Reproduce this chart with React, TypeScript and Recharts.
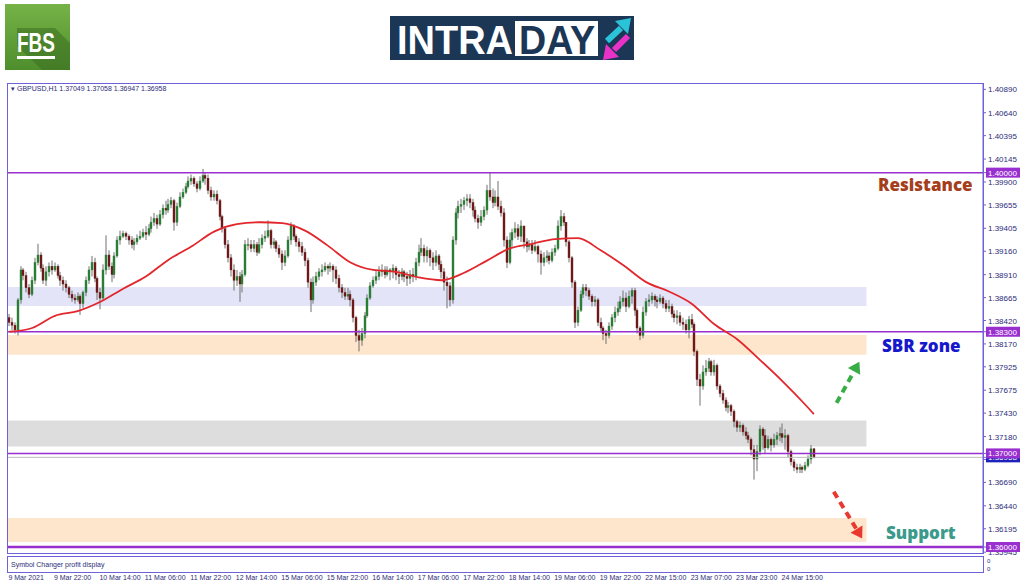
import React from 'react';
import {
    ComposedChart,
    Bar,
    Line,
    XAxis,
    YAxis,
    ReferenceArea,
    ReferenceLine,
} from 'recharts';

// GBPUSD H1, 9 Mar 2021 06:00 .. 25 Mar 2021 01:00
const firstOpen = 1.3845;

const closes = [
    1.3840, 1.3837, 1.3832, 1.3864, 1.3896, 1.3890, 1.3877, 1.3870, 1.3885, 1.3904,
    1.3912, 1.3898, 1.3885, 1.3894, 1.3900, 1.3896, 1.3900, 1.3890, 1.3885, 1.3881,
    1.3877, 1.3870, 1.3866, 1.3864, 1.3868, 1.3860, 1.3872, 1.3885, 1.3896, 1.3904,
    1.3887, 1.3872, 1.3866, 1.3896, 1.3912, 1.3900, 1.3891, 1.3911, 1.3928, 1.3932,
    1.3935, 1.3932, 1.3928, 1.3923, 1.3926, 1.3930, 1.3932, 1.3936, 1.3934, 1.3940,
    1.3947, 1.3951, 1.3945, 1.3955, 1.3962, 1.3960, 1.3966, 1.3970, 1.3947, 1.3964,
    1.3974, 1.3979, 1.3985, 1.3991, 1.3994, 1.3988, 1.3983, 1.3991, 1.3997, 1.3994,
    1.3981, 1.3974, 1.3977, 1.3970, 1.3953, 1.3940, 1.3923, 1.3909, 1.3896, 1.3885,
    1.3889, 1.3881, 1.3891, 1.3923, 1.3923, 1.3919, 1.3923, 1.3915, 1.3923, 1.3930,
    1.3932, 1.3938, 1.3923, 1.3926, 1.3919, 1.3913, 1.3904, 1.3911, 1.3928, 1.3943,
    1.3932, 1.3926, 1.3921, 1.3915, 1.3906, 1.3883, 1.3864, 1.3883, 1.3889, 1.3894,
    1.3896, 1.3900, 1.3898, 1.3900, 1.3896, 1.3887, 1.3877, 1.3872, 1.3868, 1.3870,
    1.3864, 1.3845, 1.3826, 1.3821, 1.3828, 1.3847, 1.3866, 1.3879, 1.3885, 1.3889,
    1.3894, 1.3896, 1.3891, 1.3896, 1.3894, 1.3898, 1.3891, 1.3889, 1.3894, 1.3889,
    1.3887, 1.3891, 1.3889, 1.3904, 1.3915, 1.3919, 1.3911, 1.3917, 1.3909, 1.3904,
    1.3911, 1.3902, 1.3894, 1.3883, 1.3879, 1.3864, 1.3928, 1.3957, 1.3964, 1.3966,
    1.3970, 1.3972, 1.3968, 1.3960, 1.3951, 1.3947, 1.3953, 1.3960, 1.3981, 1.3974,
    1.3968, 1.3974, 1.3964, 1.3957, 1.3928, 1.3904, 1.3928, 1.3936, 1.3940, 1.3932,
    1.3943, 1.3926, 1.3921, 1.3923, 1.3917, 1.3921, 1.3913, 1.3904, 1.3909, 1.3911,
    1.3906, 1.3915, 1.3919, 1.3943, 1.3953, 1.3947, 1.3926, 1.3909, 1.3883, 1.3840,
    1.3853, 1.3870, 1.3877, 1.3874, 1.3868, 1.3862, 1.3864, 1.3840, 1.3834, 1.3828,
    1.3826, 1.3836, 1.3845, 1.3851, 1.3855, 1.3862, 1.3866, 1.3857, 1.3868, 1.3874,
    1.3853, 1.3834, 1.3826, 1.3851, 1.3862, 1.3864, 1.3868, 1.3864, 1.3862, 1.3866,
    1.3860, 1.3855, 1.3857, 1.3849, 1.3845, 1.3847, 1.3840, 1.3838, 1.3832, 1.3843,
    1.3838, 1.3809, 1.3779, 1.3772, 1.3787, 1.3791, 1.3798, 1.3787, 1.3794, 1.3772,
    1.3764, 1.3757, 1.3749, 1.3751, 1.3745, 1.3734, 1.3728, 1.3730, 1.3723, 1.3719,
    1.3715, 1.3704, 1.3694, 1.3702, 1.3726, 1.3719, 1.3706, 1.3715, 1.3709, 1.3715,
    1.3719, 1.3721, 1.3717, 1.3719, 1.3702, 1.3691, 1.3685, 1.3683, 1.3685, 1.3683,
    1.3687, 1.3694, 1.37049, 1.36958,
];

const highs = [
    1.3849, 1.3845, 1.3840, 1.3866, 1.3900, 1.3898, 1.3894, 1.3881, 1.3889, 1.3909,
    1.3924, 1.3915, 1.3902, 1.3900, 1.3904, 1.3906, 1.3904, 1.3902, 1.3894, 1.3889,
    1.3885, 1.3879, 1.3874, 1.3870, 1.3872, 1.3870, 1.3874, 1.3889, 1.3900, 1.3911,
    1.3909, 1.3889, 1.3877, 1.3902, 1.3933, 1.3917, 1.3904, 1.3915, 1.3932, 1.3938,
    1.3938, 1.3937, 1.3934, 1.3932, 1.3930, 1.3934, 1.3938, 1.3940, 1.3943, 1.3945,
    1.3953, 1.3957, 1.3955, 1.3960, 1.3966, 1.3970, 1.3972, 1.3974, 1.3972, 1.3968,
    1.3979, 1.3983, 1.3989, 1.3996, 1.3998, 1.3996, 1.3991, 1.3996, 1.4004, 1.4000,
    1.3998, 1.3985, 1.3981, 1.3981, 1.3972, 1.3955, 1.3943, 1.3928, 1.3913, 1.3902,
    1.3896, 1.3894, 1.3896, 1.3928, 1.3930, 1.3928, 1.3928, 1.3926, 1.3930, 1.3934,
    1.3938, 1.3949, 1.3940, 1.3930, 1.3928, 1.3923, 1.3917, 1.3917, 1.3932, 1.3947,
    1.3945, 1.3934, 1.3930, 1.3926, 1.3919, 1.3909, 1.3887, 1.3889, 1.3894, 1.3898,
    1.3902, 1.3904, 1.3902, 1.3904, 1.3902, 1.3900, 1.3891, 1.3881, 1.3877, 1.3877,
    1.3874, 1.3866, 1.3847, 1.3832, 1.3834, 1.3851, 1.3870, 1.3883, 1.3889, 1.3896,
    1.3900, 1.3902, 1.3900, 1.3900, 1.3898, 1.3902, 1.3900, 1.3896, 1.3898, 1.3896,
    1.3894, 1.3896, 1.3898, 1.3909, 1.3923, 1.3930, 1.3923, 1.3921, 1.3919, 1.3915,
    1.3917, 1.3913, 1.3906, 1.3898, 1.3889, 1.3883, 1.3932, 1.3962, 1.3970, 1.3972,
    1.3974, 1.3977, 1.3977, 1.3972, 1.3964, 1.3955, 1.3960, 1.3964, 1.3987, 1.4000,
    1.3983, 1.3981, 1.3991, 1.3970, 1.3962, 1.3932, 1.3936, 1.3940, 1.3947, 1.3945,
    1.3949, 1.3943, 1.3930, 1.3928, 1.3928, 1.3928, 1.3923, 1.3917, 1.3915, 1.3917,
    1.3915, 1.3919, 1.3923, 1.3949, 1.3960, 1.3957, 1.3945, 1.3928, 1.3911, 1.3885,
    1.3857, 1.3874, 1.3881, 1.3881, 1.3877, 1.3870, 1.3868, 1.3866, 1.3845, 1.3836,
    1.3832, 1.3840, 1.3849, 1.3857, 1.3862, 1.3868, 1.3874, 1.3872, 1.3874, 1.3877,
    1.3877, 1.3855, 1.3836, 1.3857, 1.3866, 1.3870, 1.3872, 1.3870, 1.3868, 1.3870,
    1.3868, 1.3864, 1.3864, 1.3860, 1.3853, 1.3853, 1.3851, 1.3845, 1.3843, 1.3847,
    1.3849, 1.3840, 1.3811, 1.3785, 1.3794, 1.3800, 1.3802, 1.3800, 1.3800, 1.3796,
    1.3774, 1.3768, 1.3760, 1.3755, 1.3753, 1.3747, 1.3736, 1.3734, 1.3732, 1.3728,
    1.3723, 1.3717, 1.3709, 1.3709, 1.3730, 1.3728, 1.3726, 1.3719, 1.3717, 1.3721,
    1.3723, 1.3728, 1.3732, 1.3726, 1.3721, 1.3704, 1.3694, 1.3689, 1.3689, 1.3687,
    1.3691, 1.3698, 1.3709, 1.37058,
];

const lows = [
    1.3836, 1.3832, 1.3828, 1.3826, 1.3860, 1.3885, 1.3872, 1.3866, 1.3868, 1.3881,
    1.3901, 1.3894, 1.3881, 1.3879, 1.3889, 1.3891, 1.3894, 1.3887, 1.3879, 1.3874,
    1.3872, 1.3866, 1.3862, 1.3860, 1.3862, 1.3848, 1.3855, 1.3868, 1.3881, 1.3889,
    1.3883, 1.3864, 1.3854, 1.3864, 1.3891, 1.3896, 1.3883, 1.3887, 1.3909, 1.3923,
    1.3930, 1.3928, 1.3923, 1.3919, 1.3917, 1.3923, 1.3928, 1.3930, 1.3928, 1.3932,
    1.3936, 1.3943, 1.3940, 1.3943, 1.3951, 1.3955, 1.3957, 1.3962, 1.3938, 1.3943,
    1.3962, 1.3972, 1.3977, 1.3983, 1.3987, 1.3985, 1.3979, 1.3981, 1.3989, 1.3987,
    1.3977, 1.3970, 1.3970, 1.3966, 1.3949, 1.3936, 1.3919, 1.3904, 1.3889, 1.3874,
    1.3879, 1.3862, 1.3872, 1.3889, 1.3917, 1.3915, 1.3915, 1.3911, 1.3913, 1.3919,
    1.3926, 1.3930, 1.3919, 1.3919, 1.3915, 1.3909, 1.3896, 1.3900, 1.3909, 1.3923,
    1.3928, 1.3921, 1.3915, 1.3911, 1.3900, 1.3877, 1.3851, 1.3860, 1.3879, 1.3885,
    1.3889, 1.3894, 1.3891, 1.3894, 1.3883, 1.3881, 1.3872, 1.3866, 1.3864, 1.3864,
    1.3857, 1.3840, 1.3819, 1.3809, 1.3815, 1.3823, 1.3845, 1.3864, 1.3877, 1.3881,
    1.3885, 1.3889, 1.3887, 1.3889, 1.3885, 1.3887, 1.3885, 1.3881, 1.3885, 1.3883,
    1.3879, 1.3881, 1.3883, 1.3885, 1.3900, 1.3911, 1.3904, 1.3904, 1.3900, 1.3896,
    1.3900, 1.3896, 1.3887, 1.3874, 1.3855, 1.3857, 1.3860, 1.3923, 1.3951, 1.3957,
    1.3960, 1.3964, 1.3962, 1.3953, 1.3947, 1.3940, 1.3943, 1.3949, 1.3955, 1.3970,
    1.3962, 1.3964, 1.3960, 1.3953, 1.3921, 1.3898, 1.3902, 1.3921, 1.3930, 1.3928,
    1.3926, 1.3919, 1.3915, 1.3917, 1.3913, 1.3915, 1.3904, 1.3891, 1.3900, 1.3904,
    1.3902, 1.3904, 1.3911, 1.3917, 1.3938, 1.3943, 1.3921, 1.3904, 1.3877, 1.3834,
    1.3836, 1.3851, 1.3866, 1.3868, 1.3864, 1.3857, 1.3857, 1.3836, 1.3830, 1.3821,
    1.3817, 1.3823, 1.3832, 1.3840, 1.3847, 1.3851, 1.3857, 1.3851, 1.3855, 1.3860,
    1.3847, 1.3828, 1.3821, 1.3823, 1.3847, 1.3857, 1.3860, 1.3857, 1.3855, 1.3860,
    1.3855, 1.3851, 1.3851, 1.3845, 1.3840, 1.3838, 1.3836, 1.3832, 1.3828, 1.3823,
    1.3834, 1.3804, 1.3772, 1.3751, 1.3768, 1.3783, 1.3787, 1.3783, 1.3783, 1.3768,
    1.3760, 1.3753, 1.3745, 1.3743, 1.3740, 1.3728, 1.3723, 1.3723, 1.3719, 1.3715,
    1.3711, 1.3698, 1.3672, 1.3681, 1.3698, 1.3704, 1.3700, 1.3704, 1.3702, 1.3706,
    1.3709, 1.3713, 1.3711, 1.3704, 1.3696, 1.3687, 1.3681, 1.3679, 1.3679, 1.3679,
    1.3681, 1.3685, 1.3689, 1.36947,
];

// moving average, read every 8 bars
const maIdx = [0, 8, 16, 24, 32, 40, 48, 56, 64, 72, 80, 88, 96, 104, 112, 120, 128, 136, 144,
    152, 160, 168, 176, 184, 192, 200, 208, 216, 224, 232, 240, 248, 256, 264, 272, 280, 283];
const maVals = [1.3830, 1.3834, 1.3847, 1.3852, 1.3862, 1.3876, 1.3889, 1.3907, 1.3921, 1.3937,
    1.3945, 1.3947, 1.3946, 1.3938, 1.3922, 1.3904, 1.3896, 1.3894, 1.3888, 1.3885, 1.3893,
    1.3906, 1.3919, 1.3924, 1.3929, 1.3930, 1.3917, 1.3901, 1.3883, 1.3873, 1.3860, 1.3838,
    1.3822, 1.3800, 1.3777, 1.3752, 1.3742];

const timeTicks = [0, 16, 32, 48, 64, 80, 96, 112, 128, 144, 160, 176, 192, 208, 224, 240, 256, 272];
const timeLabels = ['9 Mar 2021', '9 Mar 22:00', '10 Mar 14:00', '11 Mar 06:00', '11 Mar 22:00',
    '12 Mar 14:00', '15 Mar 06:00', '15 Mar 22:00', '16 Mar 14:00', '17 Mar 06:00', '17 Mar 22:00',
    '18 Mar 14:00', '19 Mar 06:00', '19 Mar 22:00', '22 Mar 15:00', '23 Mar 07:00', '23 Mar 23:00',
    '24 Mar 15:00'];

const priceTicks = [1.4089, 1.4064, 1.40395, 1.40145, 1.399, 1.39655, 1.39405, 1.3916, 1.3891,
    1.38665, 1.3842, 1.3817, 1.37925, 1.37675, 1.3743, 1.3718, 1.36935, 1.3669, 1.3644, 1.36195,
    1.35945];
const levels = [1.4, 1.383, 1.37, 1.36];
const lastPrice = 1.36958;

// zones: lavender, SBR, grey, support
const zoneLow = [1.38574, 1.38053, 1.37074, 1.36053];
const zoneHigh = [1.38777, 1.38266, 1.37351, 1.36309];
const zoneEnd = 301;

const arrowUp = [[291, 1.3754], [299, 1.3798]];
const arrowDown = [[290, 1.3659], [300, 1.3609]];

const SLOTS = 343;
const maByIdx = new Map(maIdx.map((k, n) => [k, maVals[n]]));
const data = Array.from({ length: SLOTS }, (_, i) => {
    if (i >= closes.length) return { i };
    const open = i === 0 ? firstOpen : closes[i - 1];
    return {
        i,
        open,
        close: closes[i],
        high: highs[i],
        low: lows[i],
        range: [lows[i], highs[i]],
        ma: maByIdx.has(i) ? maByIdx.get(i) : undefined,
    };
});

const FRAME = '#6d62d9';
const AXIS_TXT = '#2c2c78';
const zoneFills = ['#e3e4f8', '#fde6cb', '#dddddd', '#fde6cb'];

function Candle(props: any) {
    const { x, y, width, height, payload } = props;
    if (!payload || payload.high == null || !isFinite(y) || !isFinite(height)) return <g />;
    const { open, close, high, low } = payload;
    const k = height / (high - low);
    const yO = y + (high - open) * k;
    const yC = y + (high - close) * k;
    const top = Math.min(yO, yC);
    const bot = Math.max(yO, yC);
    const bx = Math.round(x + width / 2 - 1);
    const up = close >= open;
    const col = up ? '#2a7d35' : '#6e1a1a';
    return (
        <g>
            <line x1={bx + 1} x2={bx + 1} y1={Math.min(y, top)} y2={Math.max(y + height, bot)}
                stroke="#707070" strokeWidth={1} />
            <rect x={bx} y={top} width={2} height={Math.max(bot - top, 1)}
                fill={col} stroke={col} strokeWidth={0.4} />
        </g>
    );
}

function PriceTick(props: any) {
    const { x, y, payload } = props;
    const v = payload.value;
    const txt = v.toFixed(5);
    const hl = levels.includes(v) ? '#9a2fd0' : v === lastPrice ? '#1f22b8' : null;
    if (hl) {
        return (
            <g>
                <rect x={x - 2} y={y - 5} width={34} height={10} fill={hl} />
                <text x={x} y={y + 3} fill="#ffffff" fontSize={8} fontFamily="Liberation Sans">{txt}</text>
            </g>
        );
    }
    return <text x={x} y={y + 3} fill={AXIS_TXT} fontSize={8} fontFamily="Liberation Sans">{txt}</text>;
}

function TimeTick(props: any) {
    const { x, y, payload } = props;
    const k = timeTicks.indexOf(payload.value);
    return (
        <text x={x - 1} y={y + 19} fill={AXIS_TXT} fontSize={7} fontFamily="Liberation Sans" textAnchor="start">
            {timeLabels[k]}
        </text>
    );
}

function makeArrow(color: string) {
    return (p: any) => {
        const { x1, y1, x2, y2 } = p;
        const ang = Math.atan2(y2 - y1, x2 - x1);
        const L = 11;
        const W = 7;
        const bx = x2 - L * Math.cos(ang);
        const by = y2 - L * Math.sin(ang);
        const px = -Math.sin(ang);
        const py = Math.cos(ang);
        return (
            <g>
                <line x1={x1} y1={y1} x2={bx} y2={by} stroke={color} strokeWidth={4} strokeDasharray="7 5" />
                <polygon points={`${x2},${y2} ${bx + px * W},${by + py * W} ${bx - px * W},${by - py * W}`}
                    fill={color} />
            </g>
        );
    };
}

function Logos() {
    return (
        <svg width={1024} height={587} style={{ position: 'absolute', left: 0, top: 0, pointerEvents: 'none' }}>
            <defs>
                <linearGradient id="fbsg" x1="0" y1="0" x2="0" y2="1">
                    <stop offset="0" stopColor="#76b246" />
                    <stop offset="1" stopColor="#4e8e2c" />
                </linearGradient>
            </defs>
            <rect x={5} y={4} width={65} height={66} fill="url(#fbsg)" />
            <polygon points="17,28 55,28 70,43 70,70 42,70 17,46" fill="#3c6f22" opacity={0.55} />
            <text x={17} y={52} fill="#ffffff" fontSize={28} fontWeight={700} fontFamily="Liberation Sans"
                textLength={38} lengthAdjust="spacingAndGlyphs">FBS</text>
            <rect x={17} y={56} width={38} height={3} fill="#ffffff" />

            <rect x={390} y={16} width={244} height={44} fill="#1c3656" />
            <text x={397} y={54} fill="#ffffff" fontSize={40} fontWeight={700} fontFamily="Liberation Sans"
                textLength={116} lengthAdjust="spacingAndGlyphs">INTRA</text>
            <rect x={515} y={21} width={83} height={35} fill="#ffffff" />
            <text x={519} y={54} fill="#1c3656" fontSize={40} fontWeight={700} fontFamily="Liberation Sans"
                textLength={76} lengthAdjust="spacingAndGlyphs">DAY</text>
            <line x1={607} y1={41} x2={621} y2={28} stroke="#2bc3d8" strokeWidth={6} />
            <polygon points="631,18 615,21 628,34" fill="#2bc3d8" />
            <line x1={628} y1={36} x2={614} y2={50} stroke="#e832c8" strokeWidth={6} />
            <polygon points="603,60 606,44 619,57" fill="#e832c8" />

            <text x={878} y={191} fill="#a53e1b" fontSize={17} fontWeight={800} fontFamily="Open Sans">Resistance</text>
            <text x={882} y={352} fill="#1717cc" fontSize={17} fontWeight={800} fontFamily="Open Sans">SBR zone</text>
            <text x={886} y={539} fill="#3c9a8c" fontSize={17} fontWeight={800} fontFamily="Open Sans">Support</text>

            <rect x={7.5} y={83.5} width={976} height={470} fill="none" stroke={FRAME} />
            <rect x={7.5} y={556.5} width={976} height={16} fill="none" stroke={FRAME} />
            <text x={11} y={91} fill={AXIS_TXT} fontSize={7} fontFamily="Liberation Sans">
                ▾ GBPUSD,H1  1.37049 1.37058 1.36947 1.36958
            </text>
            <text x={11} y={567} fill={AXIS_TXT} fontSize={7} fontFamily="Liberation Sans">
                Symbol Changer profit display
            </text>
            <text x={987} y={563} fill={AXIS_TXT} fontSize={6} fontFamily="Liberation Sans">0</text>
            <text x={987} y={571} fill={AXIS_TXT} fontSize={6} fontFamily="Liberation Sans">0</text>
        </svg>
    );
}

export default function App() {
    return (
        <div style={{ position: 'absolute', left: 0, top: 0, width: 1024, height: 587, background: '#ffffff' }}>
            <ComposedChart
                width={1024}
                height={587}
                data={data}
                margin={{ top: 84, right: 1, bottom: 4, left: 8 }}
            >
                <XAxis
                    dataKey="i"
                    type="category"
                    ticks={timeTicks}
                    interval={0}
                    tick={<TimeTick />}
                    axisLine={false}
                    tickLine={false}
                    height={30}
                />
                <YAxis
                    orientation="right"
                    type="number"
                    domain={[1.35936, 1.40947]}
                    allowDataOverflow
                    ticks={[...priceTicks, lastPrice, ...levels]}
                    interval={0}
                    tick={<PriceTick />}
                    tickSize={3}
                    axisLine={{ stroke: FRAME }}
                    tickLine={{ stroke: FRAME }}
                    width={40}
                />
                {zoneLow.map((lo, n) => (
                    <ReferenceArea key={n} x1={0} x2={zoneEnd} y1={lo} y2={zoneHigh[n]}
                        fill={zoneFills[n]} fillOpacity={1} stroke="none" />
                ))}
                <ReferenceLine y={lastPrice} stroke="#bdbdbd" strokeWidth={1} />
                {levels.map((lv) => (
                    <ReferenceLine key={lv} y={lv} stroke="#9a2fd0" strokeWidth={lv === 1.36 ? 2.5 : 1.5} />
                ))}
                <Bar dataKey="range" shape={Candle} isAnimationActive={false} />
                <Line
                    dataKey="ma"
                    type="monotone"
                    stroke="#e2262b"
                    strokeWidth={1.8}
                    dot={false}
                    connectNulls
                    isAnimationActive={false}
                />
                <ReferenceLine
                    segment={[{ x: arrowUp[0][0], y: arrowUp[0][1] }, { x: arrowUp[1][0], y: arrowUp[1][1] }]}
                    shape={makeArrow('#38ad45')}
                />
                <ReferenceLine
                    segment={[{ x: arrowDown[0][0], y: arrowDown[0][1] }, { x: arrowDown[1][0], y: arrowDown[1][1] }]}
                    shape={makeArrow('#e8382f')}
                />
            </ComposedChart>
            <Logos />
        </div>
    );
}
